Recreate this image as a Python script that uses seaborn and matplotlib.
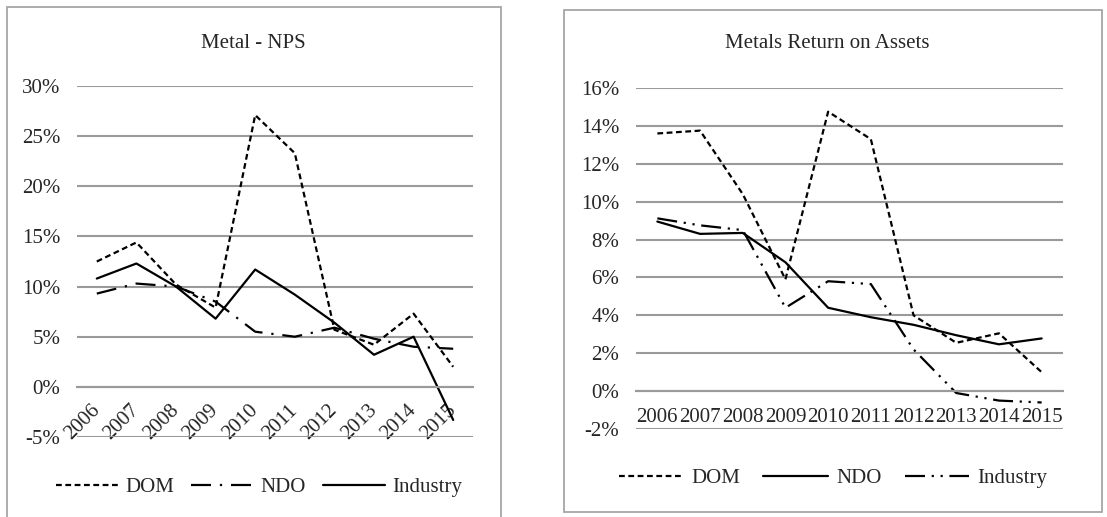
import pandas as pd
import matplotlib
matplotlib.use("Agg")
import matplotlib.pyplot as plt
import seaborn as sns
from matplotlib.patches import Rectangle
from matplotlib.ticker import FuncFormatter, MultipleLocator

# data (values in %)
years = ['2006', '2007', '2008', '2009', '2010', '2011', '2012', '2013', '2014', '2015']

nps_dom = [12.5, 14.4, 10.2, 7.9, 27.1, 23.3, 5.7, 4.2, 7.3, 2.0]
nps_ndo = [9.3, 10.3, 10.0, 8.5, 5.5, 5.0, 5.9, 4.8, 4.0, 3.8]
nps_ind = [10.8, 12.3, 10.0, 6.8, 11.7, 9.2, 6.4, 3.2, 5.0, -3.3]

roa_dom = [13.6, 13.75, 10.4, 5.9, 14.75, 13.3, 4.0, 2.55, 3.05, 1.0]
roa_ndo = [8.95, 8.3, 8.35, 6.8, 4.4, 3.9, 3.5, 2.95, 2.47, 2.78]
roa_ind = [9.12, 8.75, 8.5, 4.4, 5.8, 5.65, 2.2, -0.1, -0.5, -0.6]

sns.set_style("white")
plt.rcParams['font.family'] = ['Liberation Serif', 'DejaVu Serif']
plt.rcParams['font.size'] = 15

grid_c = '#9a9a9a'
dashed = (0, (2.6, 1.6))
dashdot = (0, (9, 4, 1, 4))
dashdotdot = (0, (9, 3, 1, 3, 1, 3))

fig = plt.figure(figsize=(11.07, 5.17), dpi=100)
W, H = 1107, 517


def px_axes(x0, x1, ytop, ybot):
    return fig.add_axes([x0 / W, (H - ybot) / H, (x1 - x0) / W, (ybot - ytop) / H])


def draw(ax, series, ymin, ymax, step, rotate):
    for name, vals, ls in series:
        df = pd.DataFrame({'year': years, 'value': vals})
        sns.lineplot(data=df, x='year', y='value', ax=ax, color='black',
                     linewidth=1.6, linestyle=ls, label=name)
    ax.set_xlim(-0.5, len(years) - 0.5)
    ax.set_ylim(ymin, ymax)
    ax.yaxis.set_major_locator(MultipleLocator(step))
    ax.yaxis.set_major_formatter(FuncFormatter(lambda v, p: f"{v:.0f}%"))
    ax.grid(axis='y', color=grid_c, linewidth=1.5)
    ax.grid(axis='x', visible=False)
    for s in ['top', 'right', 'left']:
        ax.spines[s].set_visible(False)
    # category labels sit next to the 0% line, as in Excel
    ax.spines['bottom'].set_position(('data', 0))
    ax.spines['bottom'].set_color(grid_c)
    ax.spines['bottom'].set_linewidth(1.5)
    ax.set_xlabel('')
    ax.set_ylabel('')
    ax.tick_params(axis='y', length=0, pad=12)
    if rotate:
        ax.tick_params(axis='x', length=0, pad=15)
        for lab in ax.get_xticklabels():
            lab.set_rotation(45)
            lab.set_ha('right')
            lab.set_va('center')
            lab.set_rotation_mode('anchor')
    else:
        ax.tick_params(axis='x', length=0, pad=12)
    ax.get_legend().remove()
    return ax


# left panel
ax1 = px_axes(77, 473, 86, 437)
draw(ax1, [('DOM', nps_dom, dashed), ('NDO', nps_ndo, dashdot), ('Industry', nps_ind, '-')],
     -5, 30, 5, True)
ax1.legend(loc='center', bbox_to_anchor=(259 / W, (H - 487) / H), bbox_transform=fig.transFigure,
           ncol=3, frameon=False, handlelength=3.0, handletextpad=0.35, columnspacing=0.8)
fig.text(253 / W, (H - 43) / H, 'Metal - NPS', ha='center', va='center')

# right panel
ax2 = px_axes(636, 1063, 88, 429)
draw(ax2, [('DOM', roa_dom, dashed), ('NDO', roa_ndo, '-'), ('Industry', roa_ind, dashdotdot)],
     -2, 16, 2, False)
ax2.legend(loc='center', bbox_to_anchor=(833 / W, (H - 478) / H), bbox_transform=fig.transFigure,
           ncol=3, frameon=False, handlelength=3.1, handletextpad=0.4, columnspacing=1.1)
fig.text(827 / W, (H - 44) / H, 'Metals Return on Assets', ha='center', va='center')

# chart borders
fig.add_artist(Rectangle((7 / W, -0.05), (501 - 7) / W, (H - 7) / H + 0.05, transform=fig.transFigure,
                         fill=False, edgecolor='#a6a6a6', linewidth=1.3))
fig.add_artist(Rectangle((564 / W, (H - 512) / H), (1102 - 564) / W, (512 - 10) / H,
                         transform=fig.transFigure, fill=False, edgecolor='#a6a6a6', linewidth=1.3))

fig.savefig('out.png', dpi=100)
